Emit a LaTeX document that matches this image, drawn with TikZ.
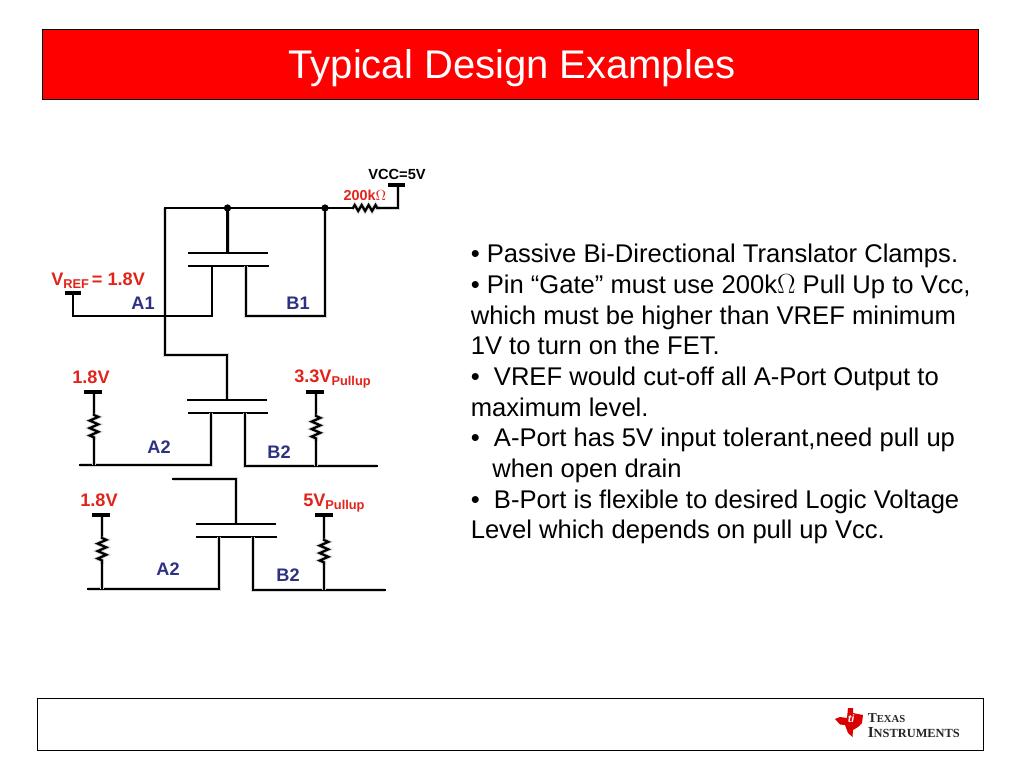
\documentclass[tikz,border=0pt]{standalone}
\usepackage{fontspec}
\setmainfont{Liberation Sans}
\newfontfamily\logofont{Liberation Serif}
\usetikzlibrary{decorations.pathmorphing}
\definecolor{lblred}{HTML}{E2231A}
\definecolor{lblblue}{HTML}{2E3180}
\definecolor{halo}{HTML}{D8D8D8}
\tikzset{
  x=0.75pt,y=-0.75pt,
  barewire/.style={draw=black,line width=1.7pt,line cap=rect,line join=miter},
  wire/.style={barewire,preaction={draw=halo,line width=3pt}},
  thick wire/.style={wire,line width=2.1pt,preaction={draw=halo,line width=3.5pt}},
  plate/.style={draw=black,line width=1.6pt},
  railbar/.style={draw=black,line width=2.3pt},
  res/.style={wire,decorate,decoration={zigzag,amplitude=3.2pt,segment length=5.6pt}},
  hres/.style={res,decoration={zigzag,amplitude=2.2pt,segment length=5.2pt}},
  dot/.style={circle,fill=black,inner sep=0pt,minimum size=5.5pt},
  redlbl/.style={inner sep=0pt,text=lblred,font=\fontsize{13.6}{15}\selectfont\bfseries},
  blulbl/.style={inner sep=0pt,text=lblblue,font=\fontsize{13.6}{15}\selectfont\bfseries},
  blklbl/.style={inner sep=0pt,text=black,font=\fontsize{11}{12}\selectfont\bfseries},
  box/.style={draw=black,line width=0.7pt}
}
\newcommand{\subtxt}[1]{\raisebox{-0.3ex}{\fontsize{9.6}{12}\selectfont #1}}
\begin{document}
\begin{tikzpicture}
\useasboundingbox (0,0) rectangle (1024,768);
\fill[white] (0,0) rectangle (1024,768);
% title and footer
\node[box,fill=red,minimum width=702pt,minimum height=52.5pt,inner sep=0pt] (titlebox) at (510,64) {};
\node[text=white,font=\fontsize{30}{34}\selectfont,inner sep=0pt] (title) at (512,68) {Typical Design Examples};
\node[box,fill=white,minimum width=710pt,minimum height=39pt,inner sep=0pt] (footbox) at (510.5,724) {};
% first stage
\coordinate (tl) at (165,208); \node[dot] (j1) at (227.5,208) {}; \node[dot] (j2) at (325,208) {};
\coordinate (r0a) at (353,208); \coordinate (r0b) at (380,208); \coordinate (vc) at (398,208); \coordinate (vct) at (398,185);
\coordinate (vcl) at (388,185); \coordinate (vcr) at (405,185);
\coordinate (g1a) at (188,253); \coordinate (g1b) at (268,253); \coordinate (g1m) at (227.5,253);
\coordinate (c1a) at (188,266); \coordinate (c1b) at (269,266);
\coordinate (s1) at (212,266); \coordinate (s1b) at (212,316); \coordinate (d1) at (246,266); \coordinate (d1b) at (246,316);
\coordinate (d1c) at (325,316); \coordinate (vr) at (73,316); \coordinate (vrt) at (73,293);
\coordinate (vrl) at (65,293); \coordinate (vrr) at (81,293);
\coordinate (bend1) at (165,355); \coordinate (bend2) at (227,355);
% second stage
\coordinate (g2m) at (227,400); \coordinate (g2a) at (187,400); \coordinate (g2b) at (267,400);
\coordinate (c2a) at (188,413); \coordinate (c2b) at (268,413);
\coordinate (s2) at (211,413); \coordinate (s2b) at (211,465); \coordinate (l2) at (80,465);
\coordinate (d2) at (245,413); \coordinate (d2b) at (245,466); \coordinate (e2) at (377,466);
\coordinate (p2) at (94,392); \coordinate (p2a) at (94,415); \coordinate (p2b) at (94,440); \coordinate (p2c) at (94,465);
\coordinate (p2l) at (84,392); \coordinate (p2r) at (102,392);
\coordinate (q2) at (316,392); \coordinate (q2a) at (316,416); \coordinate (q2b) at (316,441); \coordinate (q2c) at (316,466);
\coordinate (q2l) at (306,392); \coordinate (q2r) at (324,392);
% third stage
\coordinate (t3) at (173,479); \coordinate (t3b) at (236,479); \coordinate (g3m) at (236,524);
\coordinate (g3a) at (196,524); \coordinate (g3b) at (276,524); \coordinate (c3a) at (196,537); \coordinate (c3b) at (277,537);
\coordinate (s3) at (219,537); \coordinate (s3b) at (219,589); \coordinate (l3) at (88,589);
\coordinate (d3) at (253,537); \coordinate (d3b) at (253,590); \coordinate (e3) at (385,590);
\coordinate (p3) at (102,515); \coordinate (p3a) at (102,538); \coordinate (p3b) at (102,564); \coordinate (p3c) at (102,589);
\coordinate (p3l) at (92,515); \coordinate (p3r) at (110,515);
\coordinate (q3) at (324,515); \coordinate (q3a) at (324,540); \coordinate (q3b) at (324,565); \coordinate (q3c) at (324,590);
\coordinate (q3l) at (315,515); \coordinate (q3r) at (333,515);
% wires stage 1
\draw[thick wire] (tl) -- (bend1) -- (bend2) -- (g2m);
\draw[barewire] (tl) -- (j1) -- (j2) -- (r0a);
\draw[hres] (r0a) -- (r0b);
\draw[wire] (r0b) -- (vc) -- (vct);
\draw[railbar] (vcl) -- (vcr);
\draw[wire] (j1) -- (g1m);
\draw[plate] (g1a) -- (g1b); \draw[plate] (c1a) -- (c1b);
\draw[barewire] (vrt) -- (vr) -- (s1b) -- (s1);
\draw[railbar] (vrl) -- (vrr);
\draw[wire] (d1) -- (d1b) -- (d1c) -- (j2);
% wires stage 2
\draw[plate] (g2a) -- (g2b); \draw[plate] (c2a) -- (c2b);
\draw[wire] (s2) -- (s2b) -- (l2);
\draw[wire] (d2) -- (d2b) -- (e2);
\draw[wire] (p2) -- (p2a); \draw[res] (p2a) -- (p2b); \draw[thick wire] (p2b) -- (p2c);
\draw[railbar] (p2l) -- (p2r);
\draw[wire] (q2) -- (q2a); \draw[res] (q2a) -- (q2b); \draw[wire] (q2b) -- (q2c);
\draw[railbar] (q2l) -- (q2r);
% wires stage 3
\draw[wire] (t3) -- (t3b) -- (g3m);
\draw[plate] (g3a) -- (g3b); \draw[plate] (c3a) -- (c3b);
\draw[wire] (s3) -- (s3b) -- (l3);
\draw[wire] (d3) -- (d3b) -- (e3);
\draw[wire] (p3) -- (p3a); \draw[res] (p3a) -- (p3b); \draw[wire] (p3b) -- (p3c);
\draw[railbar] (p3l) -- (p3r);
\draw[thick wire] (q3) -- (q3a); \draw[res] (q3a) -- (q3b); \draw[wire] (q3b) -- (q3c);
\draw[railbar] (q3l) -- (q3r);
% labels
\node[blklbl] (vcc) at (397,174) {VCC=5V};
\node[redlbl,font=\fontsize{10.8}{12}\selectfont\bfseries] (r200) at (365,195) {200k$\Omega$};
\node[redlbl,anchor=west] (vref) at (51,281) {V\subtxt{REF}\,= 1.8V};
\node[blulbl] (a1) at (143,303) {A1};
\node[blulbl] (b1) at (298,303) {B1};
\node[redlbl] (v18a) at (91,377) {1.8V};
\node[redlbl,anchor=west] (v33) at (294,379) {3.3V\subtxt{Pullup}};
\node[blulbl] (a2a) at (159,447) {A2};
\node[blulbl] (b2a) at (279,452) {B2};
\node[redlbl] (v18b) at (99,500) {1.8V};
\node[redlbl,anchor=west] (v5) at (303,503) {5V\subtxt{Pullup}};
\node[blulbl] (a2b) at (168,569) {A2};
\node[blulbl] (b2b) at (288,575) {B2};
% body text
\node[anchor=north west,inner sep=0pt,align=left,font=\fontsize{19.2}{23}\selectfont] (body) at (470.5,244) {%
• Passive Bi-Directional Translator Clamps.\\
• Pin “Gate” must use 200k$\Omega$ Pull Up to Vcc,\\
which must be higher than VREF minimum\\
1V to turn on the FET.\\
•\ \ VREF would cut-off all A-Port Output to\\
maximum level.\\
•\ \ A-Port has 5V input tolerant,need pull up\\
\hspace*{16.2pt}when open drain\\
•\ \ B-Port is flexible to desired Logic Voltage\\
Level which depends on pull up Vcc.};
% logo
\fill[red!85!black] (848,708) -- (853,708) -- (853,713) -- (863,715) -- (862,723) -- (858,727) -- (853,730) -- (852.5,737) -- (848,733) -- (845,725) -- (840,724.5) -- (835,719) -- (840,717) -- (847,718) -- cycle;
\node[text=white,inner sep=0pt,font=\fontsize{8}{8}\selectfont\itshape\bfseries] (ti) at (851,719) {ti};
\node[anchor=west,inner sep=0pt,font=\logofont\bfseries\fontsize{10.2}{10}\selectfont,text=black!85] (tx) at (867.5,718) {T\fontsize{8}{10}\selectfont EXAS};
\node[anchor=west,inner sep=0pt,font=\logofont\bfseries\fontsize{11.5}{10}\selectfont,text=black!85] (in) at (867.5,732.5) {I\fontsize{9.3}{10}\selectfont NSTRUMENTS};
\end{tikzpicture}
\end{document}
